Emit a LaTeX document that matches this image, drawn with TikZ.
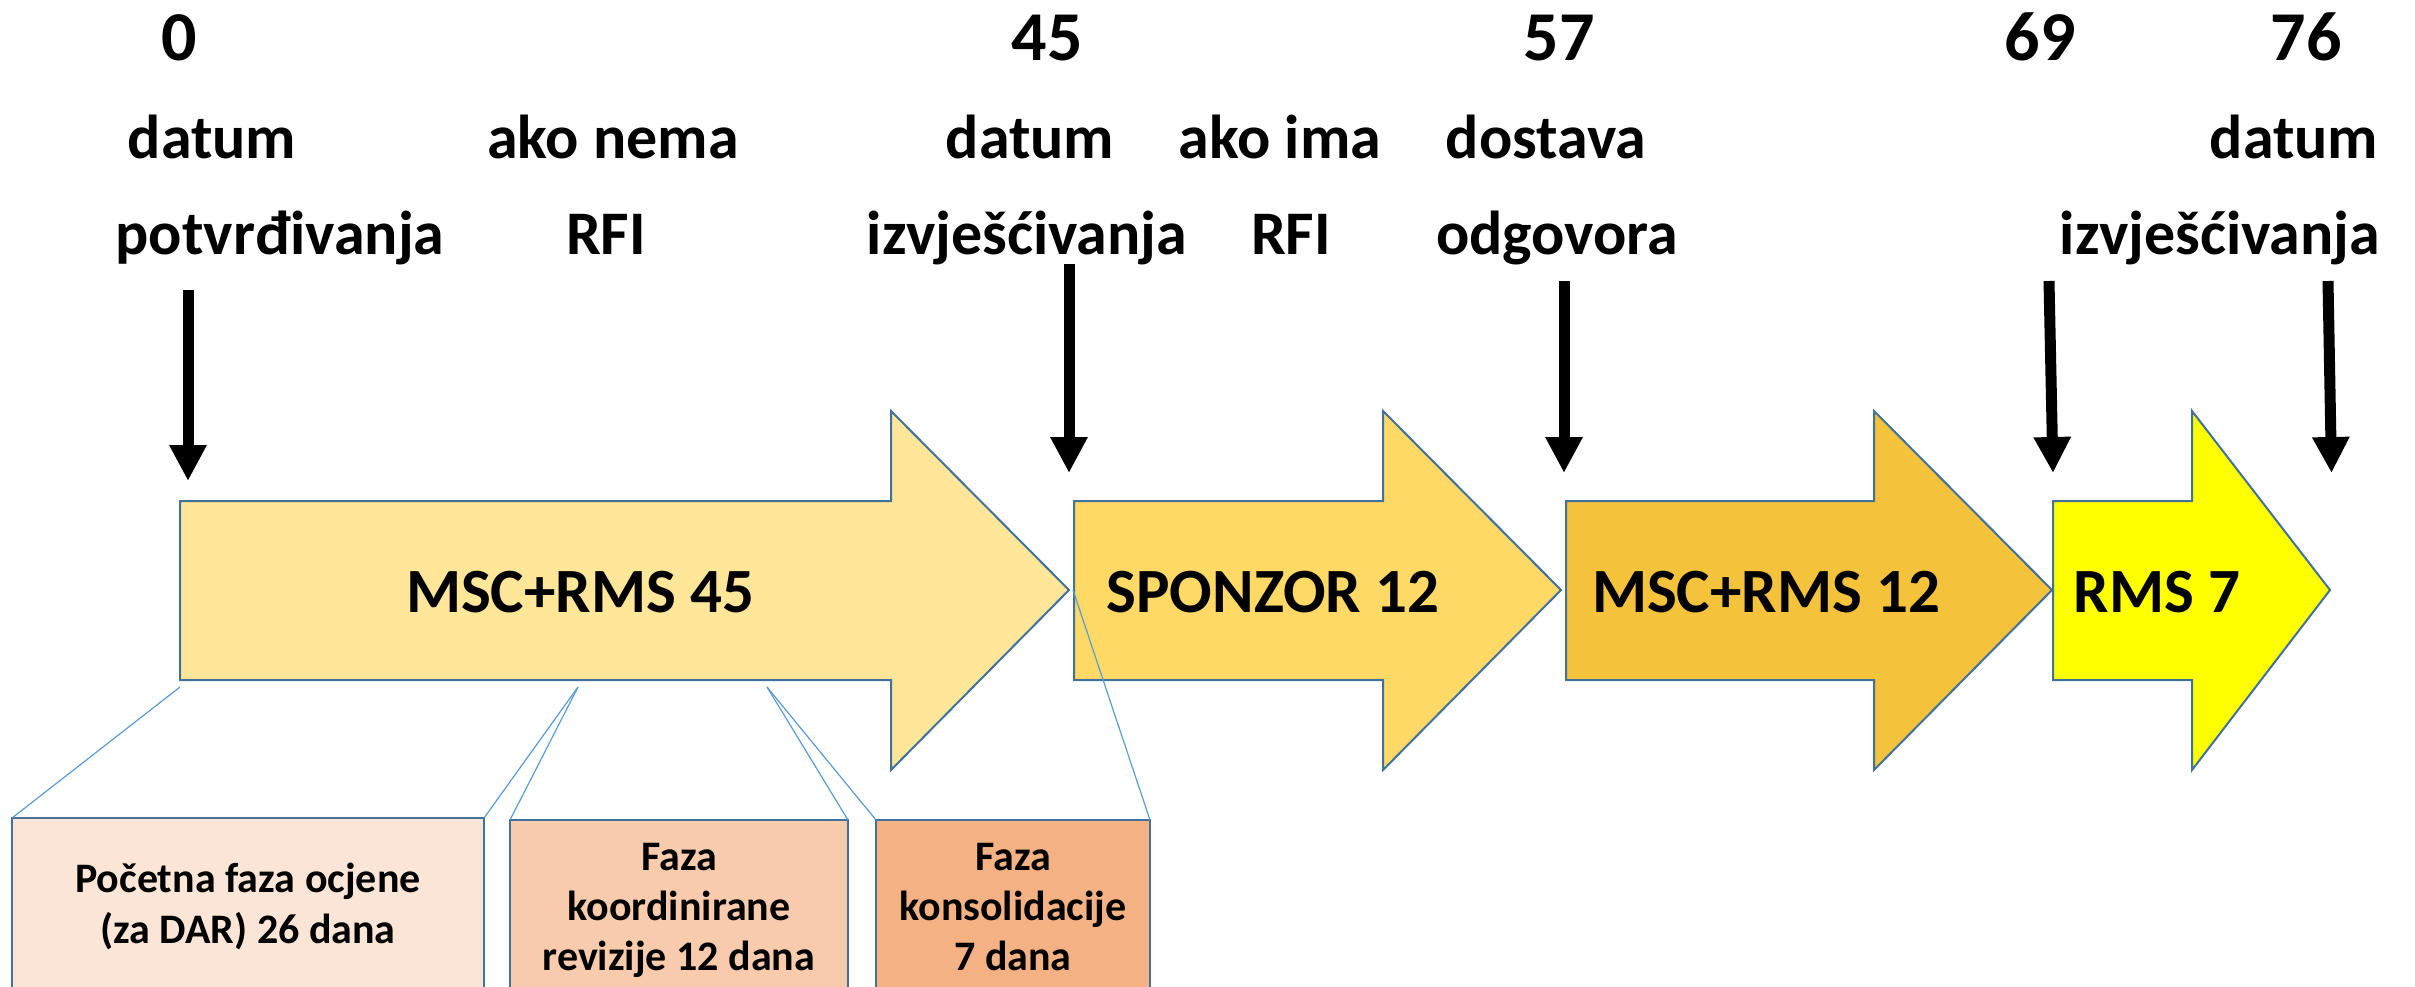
\documentclass[tikz,border=0pt]{standalone}
\usepackage{fontspec}
\setmainfont{Carlito}
\usetikzlibrary{arrows.meta}
\definecolor{outl}{HTML}{41719C}
\definecolor{conn}{HTML}{5B9BD5}
\definecolor{fillA}{HTML}{FFE699}
\definecolor{fillB}{HTML}{FFD966}
\definecolor{fillC}{HTML}{F5C33B}
\definecolor{fillD}{HTML}{FFFF00}
\definecolor{boxA}{HTML}{FBE5D6}
\definecolor{boxB}{HTML}{F8CBAD}
\definecolor{boxC}{HTML}{F4B183}
\tikzset{
  num/.style={font=\bfseries\fontsize{35}{42}\selectfont, anchor=base, inner sep=0pt},
  lbl/.style={font=\bfseries\fontsize{31}{37}\selectfont, anchor=base, inner sep=0pt},
  arrlbl/.style={font=\bfseries\fontsize{31.5}{38}\selectfont, anchor=base, inner sep=0pt},
  boxtxt/.style={font=\bfseries\fontsize{21}{25}\selectfont, anchor=base, inner sep=0pt},
  bigarrow/.style={draw=outl, line width=1pt, line join=miter},
  phasebox/.style={draw=outl, line width=1pt, anchor=north west, inner sep=0pt, outer sep=0pt, minimum height=100pt},
  conline/.style={draw=conn, line width=0.6pt},
  darr/.style={draw=black, line width=5.5pt, -{Triangle[width=17.5pt,length=18pt]}},
}
\begin{document}
\begin{tikzpicture}[x=0.5pt,y=-0.5pt]
\clip (0,0) rectangle (2415,986);
\useasboundingbox (0,0) rectangle (2415,986);
\fill[white] (0,0) rectangle (2415,986);

% big arrows
\draw[bigarrow, fill=fillA] (180,501) coordinate (a1) -- (891,501) -- (891,411) -- (1069,590) coordinate (a1tip) -- (891,770) -- (891,680) -- (180,680) -- cycle;
\draw[bigarrow, fill=fillB] (1074,501) -- (1383,501) -- (1383,411) -- (1561,590) coordinate (a2tip) -- (1383,770) -- (1383,680) -- (1074,680) -- cycle;
\draw[bigarrow, fill=fillC] (1566,501) -- (1874,501) -- (1874,411) -- (2052,590) coordinate (a3tip) -- (1874,770) -- (1874,680) -- (1566,680) -- cycle;
\draw[bigarrow, fill=fillD] (2053,501) -- (2192,501) -- (2192,411) -- (2330,590) coordinate (a4tip) -- (2192,770) -- (2192,680) -- (2053,680) -- cycle;
\coordinate (a2left) at (1073,590);

\node[arrlbl] (l1) at (580,612) {MSC+RMS 45};
\node[arrlbl] (l2) at (1273,612) {SPONZOR 12};
\node[arrlbl] (l3) at (1766,612) {MSC+RMS 12};
\node[arrlbl] (l4) at (2157,612) {RMS 7};

% phase boxes
\node[phasebox, fill=boxA, minimum width=236pt] (b1) at (12,818) {};
\node[phasebox, fill=boxB, minimum width=169pt] (b2) at (510,820) {};
\node[phasebox, fill=boxC, minimum width=137pt] (b3) at (876,820) {};

\node[boxtxt] (b1t1) at (248,892) {Početna faza ocjene};
\node[boxtxt] (b1t2) at (248,943) {(za DAR) 26 dana};
\node[boxtxt] (b2t1) at (679,870) {Faza};
\node[boxtxt] (b2t2) at (679,920) {koordinirane};
\node[boxtxt] (b2t3) at (679,970) {revizije 12 dana};
\node[boxtxt] (b3t1) at (1013,870) {Faza};
\node[boxtxt] (b3t2) at (1013,920) {konsolidacije};
\node[boxtxt] (b3t3) at (1013,970) {7 dana};

% connectors
\coordinate (c0) at (180,687);
\coordinate (c1) at (578,687);
\coordinate (c2) at (767,687);
\draw[conline] (c0) -- (b1.north west);
\draw[conline] (c1) -- (b1.north east);
\draw[conline] (c1) -- (b2.north west);
\draw[conline] (c2) -- (b2.north east);
\draw[conline] (c2) -- (b3.north west);
\draw[conline] (a2left) -- (b3.north east);

% top labels
\node[num] (n0) at (179,60) {0};
\node[num] (n45) at (1047,60) {45};
\node[num] (n57) at (1559,60) {57};
\node[num] (n69) at (2040,60) {69};
\node[num] (n76) at (2306,60) {76};

\node[lbl] (t1a) at (212,158) {datum};
\node[lbl] (t1b) at (280,254) {potvrđivanja};
\node[lbl] (t2a) at (613,158) {ako nema};
\node[lbl] (t2b) at (606,254) {RFI};
\node[lbl] (t3a) at (1030,158) {datum};
\node[lbl] (t3b) at (1027,254) {izvješćivanja};
\node[lbl] (t4a) at (1280,158) {ako ima};
\node[lbl] (t4b) at (1291,254) {RFI};
\node[lbl] (t5a) at (1546,158) {dostava};
\node[lbl] (t5b) at (1557,254) {odgovora};
\node[lbl] (t6a) at (2294,158) {datum};
\node[lbl] (t6b) at (2220,254) {izvješćivanja};

% down arrows
\coordinate (d0s) at (188,290);   \coordinate (d0e) at (188,481);
\coordinate (d1s) at (1069,264);  \coordinate (d1e) at (1069,473);
\coordinate (d2s) at (1564,281);  \coordinate (d2e) at (1564,473);
\coordinate (d3s) at (2049,281);  \coordinate (d3e) at (2053,473);
\coordinate (d4s) at (2328,281);  \coordinate (d4e) at (2331.5,473);
\draw[darr] (d0s) -- (d0e);
\draw[darr] (d1s) -- (d1e);
\draw[darr] (d2s) -- (d2e);
\draw[darr] (d3s) -- (d3e);
\draw[darr] (d4s) -- (d4e);
\end{tikzpicture}
\end{document}
